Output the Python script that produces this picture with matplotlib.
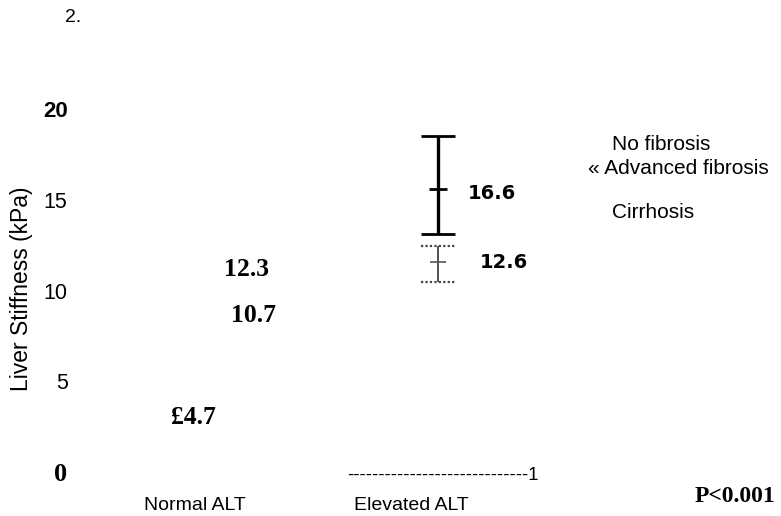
import matplotlib
matplotlib.use("Agg")
import matplotlib.pyplot as plt
from matplotlib.font_manager import FontProperties

# ---------------- data ----------------
categories = ["Normal ALT", "Elevated ALT"]
y_ticks = [0, 5, 10, 15, 20]
y_tick_labels = ["0", "5", "10", "15", "20"]

# value labels shown beside the Normal ALT group (text, y level)
normal_labels = ["12.3", "10.7", "£4.7"]
normal_label_y = [11.18, 8.6, 2.98]

# error bars for the Elevated ALT group
elev_mean = [15.59, 11.57]
elev_low = [13.11, 10.47]
elev_high = [18.51, 12.45]
elev_labels = ["16.6", "12.6"]
elev_label_y = [15.37, 11.52]

legend_items = ["No fibrosis", "« Advanced fibrosis", "Cirrhosis"]
p_text = "P<0.001"

# ---------------- figure ----------------
W, H = 781, 516
fig = plt.figure(figsize=(W / 100, H / 100), dpi=100)

def fx(px):
    return px / W

def fy(py):
    return 1 - py / H

# axes: x data 0 -> px 195, 1 unit = 216 px ; y data 0 -> px 472, 1 unit = 18.15 px
xl, xr = -0.5, 1.6
yb, yt = -1.0, 21.0
left_px = 195 + 216 * xl
right_px = 195 + 216 * xr
bot_px = 472 - 18.15 * yb
top_px = 472 - 18.15 * yt
ax = fig.add_axes([fx(left_px), fy(bot_px), fx(right_px - left_px), (bot_px - top_px) / H])
ax.set_xlim(xl, xr)
ax.set_ylim(yb, yt)
for s in ax.spines.values():
    s.set_visible(False)

# ticks
ax.set_xticks(range(len(categories)))
ax.set_xticklabels(categories, fontsize=14, family="Liberation Sans")
ax.tick_params(axis="x", length=0, pad=5)
ax.set_yticks(y_ticks)
ax.set_yticklabels(y_tick_labels)
ax.tick_params(axis="y", length=0, pad=14)
tick_fonts = [
    FontProperties(family="Liberation Serif", weight="bold", size=19),
    FontProperties(family="Liberation Sans", size=15.5),
    FontProperties(family="Liberation Sans", size=15.5),
    FontProperties(family="Liberation Sans", size=15.5),
    FontProperties(family="Liberation Sans", weight="bold", size=16),
]
for lab, fp in zip(ax.get_yticklabels(), tick_fonts):
    lab.set_fontproperties(fp)

# y label
fig.text(fx(22), fy(289), "Liver Stiffness (kPa)", rotation=90, ha="center", va="center",
         fontsize=16.5, family="Liberation Sans")

# Normal ALT value labels
normal_x = [0.24, 0.273, -0.005]
for t, y, x in zip(normal_labels, normal_label_y, normal_x):
    ax.text(x, y, t, ha="center", va="center", fontsize=18.5,
            family="Liberation Serif", weight="bold")

# Elevated ALT error bars
bx = 1.125
ax.errorbar([bx], [elev_mean[0]],
            yerr=[[elev_mean[0] - elev_low[0]], [elev_high[0] - elev_mean[0]]],
            fmt="_", color="black", ms=13, mew=2.0, elinewidth=2.4, capsize=12, capthick=2.4)
ax.errorbar([bx], [elev_mean[1]],
            yerr=[[elev_mean[1] - elev_low[1]], [elev_high[1] - elev_mean[1]]],
            fmt="none", color="#444444", elinewidth=1.3, capsize=0, linestyle=":")
ax.plot([bx], [elev_mean[1]], marker="_", ms=11, mew=1.2, color="#555555", linestyle="none")
cap_half = 0.078
ax.hlines([elev_low[1], elev_high[1]], bx - cap_half, bx + cap_half, colors="#444444",
          linestyles=(0, (1, 1)), linewidth=1.6)

elev_label_x = [1.264, 1.319]
for t, y, x in zip(elev_labels, elev_label_y, elev_label_x):
    ax.text(x, y, t, ha="left", va="center", fontsize=14, family="DejaVu Sans", weight="bold")

# dashed baseline text
ax.text(0.704, -0.2, "-" * 29 + "1", ha="left", va="center", fontsize=13.3,
        family="Liberation Sans")

# legend-like texts
fig.text(fx(612), fy(145), legend_items[0], ha="left", va="center", fontsize=15,
         family="Liberation Sans")
fig.text(fx(588), fy(168), legend_items[1], ha="left", va="center", fontsize=15,
         family="Liberation Sans")
fig.text(fx(612), fy(212), legend_items[2], ha="left", va="center", fontsize=15,
         family="Liberation Sans")

# P value
fig.text(fx(735), fy(497), p_text, ha="center", va="center", fontsize=17,
         family="Liberation Serif", weight="bold")

# panel label
fig.text(fx(73), fy(18), "2.", ha="center", va="center", fontsize=14, family="Liberation Sans")

fig.savefig("out.png", dpi=100)
